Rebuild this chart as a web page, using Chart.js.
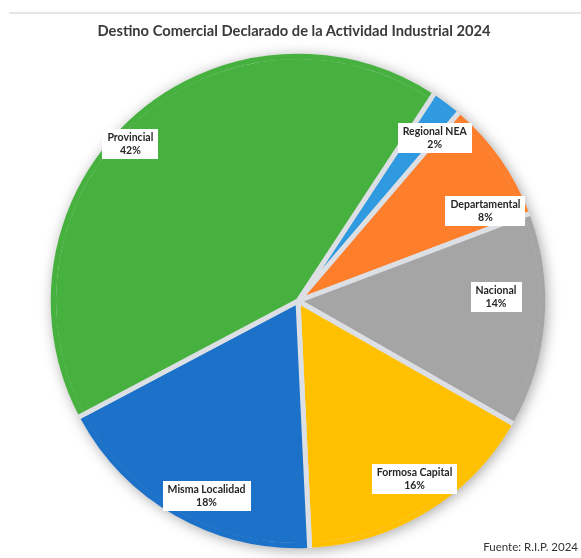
<!DOCTYPE html>
<html>
<head>
<meta charset="utf-8">
<script src="https://cdn.jsdelivr.net/npm/chart.js@4.4.1/dist/chart.umd.min.js"></script>
<style>
  html, body { margin: 0; padding: 0; background: #fff; }
  #wrap { position: relative; width: 581px; height: 558px; overflow: hidden; }
  #rule { position: absolute; left: 9px; right: 0; top: 12px; height: 2px; background: #e6e6e6; }
  #title { position: absolute; left: 0; width: 588px; top: 21px; text-align: center;
           font: bold 14.7px Lato, sans-serif; color: #3a3a3a; }
  #source { position: absolute; right: 3px; top: 540px; font: 11.5px Lato, sans-serif; color: #333; }
  canvas { position: absolute; left: 0; top: 0; }
</style>
</head>
<body>
<div id="wrap">
  <div id="rule"></div>
  <canvas id="pie" width="581" height="558"></canvas>
  <div id="title">Destino Comercial Declarado de la Actividad Industrial 2024</div>
  <div id="source">Fuente: R.I.P. 2024</div>
</div>
<script>
// data, clockwise from the top-right
const categories = ['Regional NEA', 'Departamental', 'Nacional', 'Formosa Capital', 'Misma Localidad', 'Provincial'];
const values = [2, 8, 14, 16, 18, 42];
const colors = ['#2f9ae0', '#fd7e2b', '#a5a5a5', '#ffc000', '#1c71c9', '#47b13f'];

// where each label box sits inside its slice (fraction of the arc, fraction of the radius)
const labelPlace = [
  { along: 0.93, radius: 0.87 },
  { along: 0.83, radius: 0.85 },
  { along: 0.39, radius: 0.81 },
  { along: 0.47, radius: 0.87 },
  { along: 0.43, radius: 0.88 },
  { along: 0.47, radius: 0.94 },
];

const pieShadow = {
  id: 'pieShadow',
  beforeDatasetsDraw(chart, args, opts) {
    const arc = chart.getDatasetMeta(0).data[0];
    const ctx = chart.ctx;
    ctx.save();
    ctx.shadowColor = opts.color;
    ctx.shadowBlur = opts.blur;
    ctx.shadowOffsetX = opts.offsetX;
    ctx.shadowOffsetY = opts.offsetY;
    ctx.fillStyle = '#fff';
    ctx.beginPath();
    ctx.arc(arc.x, arc.y, arc.outerRadius + arc.options.borderWidth / 2, 0, Math.PI * 2);
    ctx.fill();
    ctx.restore();
  }
};

// paint over the border on the rim so only the gaps between slices stay grey
const outerEdge = {
  id: 'outerEdge',
  afterDatasetsDraw(chart) {
    const ctx = chart.ctx;
    chart.getDatasetMeta(0).data.forEach(arc => {
      const bw = arc.options.borderWidth;
      const trim = (bw / 2) / arc.outerRadius;
      ctx.save();
      ctx.strokeStyle = arc.options.backgroundColor;
      ctx.lineWidth = bw + 0.5;
      ctx.beginPath();
      ctx.arc(arc.x, arc.y, arc.outerRadius, arc.startAngle + trim, arc.endAngle - trim);
      ctx.stroke();
      ctx.restore();
    });
  }
};

const sliceLabels = {
  id: 'sliceLabels',
  afterDatasetsDraw(chart, args, opts) {
    const ctx = chart.ctx;
    const arcs = chart.getDatasetMeta(0).data;
    ctx.save();
    ctx.font = opts.font;
    ctx.textAlign = 'center';
    ctx.textBaseline = 'middle';
    arcs.forEach((arc, i) => {
      const p = opts.place[i];
      const a = arc.startAngle + (arc.endAngle - arc.startAngle) * p.along;
      const r = arc.outerRadius * p.radius;
      const x = arc.x + Math.cos(a) * r;
      const y = arc.y + Math.sin(a) * r;
      const lines = [categories[i], values[i] + '%'];
      const w = Math.max(...lines.map(t => ctx.measureText(t).width)) + 2 * opts.padX;
      const h = lines.length * opts.lineHeight + 2 * opts.padY;
      ctx.fillStyle = '#fff';
      ctx.fillRect(Math.round(x - w / 2), Math.round(y - h / 2), Math.round(w), Math.round(h));
      ctx.fillStyle = opts.color;
      lines.forEach((t, k) => ctx.fillText(t, x, y - h / 2 + opts.padY + opts.lineHeight * (k + 0.5)));
    });
    ctx.restore();
  }
};

new Chart(document.getElementById('pie').getContext('2d'), {
  type: 'pie',
  data: {
    labels: categories,
    datasets: [{
      data: values,
      backgroundColor: colors,
      borderColor: '#dcdfe3',
      borderWidth: 5,
    }]
  },
  options: {
    responsive: false,
    animation: false,
    rotation: 33.3,
    layout: { padding: { left: 51, right: 36, top: 54, bottom: 10 } },
    plugins: {
      legend: { display: false },
      tooltip: { enabled: false },
      pieShadow: { color: 'rgba(0,0,0,0.35)', blur: 14, offsetX: 2, offsetY: 2 },
      sliceLabels: { place: labelPlace, font: 'bold 10.5px Lato', color: '#262626', padX: 5, padY: 2, lineHeight: 13 }
    }
  },
  plugins: [pieShadow, outerEdge, sliceLabels]
});
</script>
</body>
</html>
